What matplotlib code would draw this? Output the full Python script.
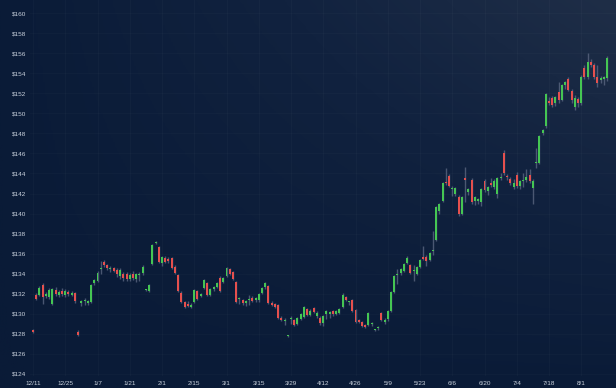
import numpy as np
import matplotlib
matplotlib.use("Agg")
import matplotlib.pyplot as plt
from matplotlib.colors import LinearSegmentedColormap

# ---------------- data ----------------
tick_labels = ["12/11", "12/25", "1/7", "1/21", "2/1", "2/15", "3/1", "3/15", "3/29",
               "4/12", "4/26", "5/9", "5/23", "6/6", "6/20", "7/4", "7/18", "8/1"]
tick_every = 10

opens = [128.4, 131.9, 131.9, 132.9, 131.8, 131.7, 131.0, 132.4, 131.9, 132.3,
         131.9, 132.2, 131.9, 132.1, 128.2, 131.1, 131.3, 131.1, 131.2, 133.1,
         133.3, 134.5, 135.2, 134.9, 134.5, 134.6, 134.4, 133.8, 134.0, 134.0,
         133.5, 134.0, 133.5, 133.9, 134.1, 132.4, 132.3, 135.0, 137.1, 136.7,
         135.1, 135.6, 135.5, 135.6, 134.7, 133.9, 132.1, 131.2, 131.0, 130.7,
         131.2, 132.3, 131.8, 132.6, 133.1, 131.9, 132.5, 132.7, 133.6, 133.2,
         133.8, 134.5, 134.2, 133.2, 131.5, 131.4, 131.1, 131.4, 131.6, 131.4,
         131.4, 132.1, 132.7, 132.8, 131.1, 131.0, 130.9, 129.6, 129.3, 127.8,
         129.5, 129.4, 129.0, 129.5, 129.7, 130.5, 129.9, 130.6, 129.8, 129.6,
         129.1, 130.0, 130.0, 130.3, 130.0, 130.1, 130.7, 131.7, 131.2, 131.4,
         130.4, 129.4, 129.2, 128.9, 128.9, 129.0, 128.4, 128.6, 130.1, 129.2,
         129.5, 130.3, 132.2, 133.9, 134.1, 134.3, 135.1, 134.9, 134.3, 134.0,
         134.7, 135.7, 135.7, 135.4, 136.3, 137.4, 140.3, 141.3, 143.1, 143.7,
         142.4, 142.0, 141.7, 140.0, 143.5, 142.1, 143.3, 141.3, 141.3, 141.2,
         143.2, 142.2, 143.0, 142.6, 142.0, 143.5, 146.0, 143.7, 143.4, 142.6,
         143.8, 142.7, 143.2, 143.3, 143.8, 142.5, 145.0, 145.0, 148.0, 148.7,
         151.2, 151.5, 151.0, 152.1, 151.3, 152.8, 153.4, 152.2, 150.6, 151.4,
         151.0, 154.5, 153.6, 155.1, 154.8, 153.6, 153.3, 153.4, 153.5]

highs = [128.5, 132.1, 132.8, 133.1, 132.2, 132.6, 132.6, 132.7, 132.4, 132.6,
         132.5, 132.4, 132.3, 132.2, 128.4, 131.4, 131.6, 131.4, 133.0, 133.5,
         134.3, 135.3, 135.4, 135.0, 134.8, 134.7, 134.6, 134.6, 134.2, 134.2,
         134.1, 134.3, 134.1, 134.2, 134.9, 132.5, 133.0, 137.0, 137.3, 136.8,
         135.8, 135.8, 135.7, 135.7, 134.9, 134.0, 132.3, 131.3, 131.3, 131.1,
         132.5, 132.4, 132.1, 133.5, 133.2, 132.6, 132.8, 133.2, 133.8, 133.7,
         134.7, 134.6, 134.3, 133.3, 131.7, 131.5, 131.4, 131.9, 131.8, 131.7,
         132.1, 132.7, 133.2, 132.9, 131.3, 131.1, 131.0, 129.8, 129.6, 127.9,
         129.8, 129.5, 129.7, 130.1, 130.8, 130.6, 130.5, 130.7, 130.3, 129.8,
         129.9, 130.4, 130.3, 130.4, 130.4, 130.6, 132.1, 131.8, 131.3, 131.5,
         130.5, 129.5, 129.3, 129.0, 130.2, 129.2, 128.5, 128.8, 130.2, 129.6,
         130.4, 132.3, 133.9, 134.5, 134.6, 135.1, 135.8, 135.0, 134.9, 134.8,
         135.5, 136.8, 135.9, 136.2, 138.3, 140.8, 141.1, 143.1, 144.5, 143.9,
         142.7, 142.6, 141.9, 141.8, 144.6, 142.5, 143.5, 141.8, 141.6, 142.5,
         143.4, 142.7, 143.5, 143.4, 143.6, 144.0, 146.3, 143.9, 143.6, 143.4,
         144.1, 143.3, 144.0, 144.4, 144.4, 143.4, 146.5, 147.8, 148.4, 152.0,
         151.6, 151.7, 151.7, 153.1, 152.9, 153.2, 153.6, 152.4, 151.8, 151.6,
         153.8, 154.8, 156.0, 155.4, 155.0, 154.8, 153.7, 153.7, 155.7]

lows = [128.1, 131.4, 131.8, 131.0, 131.6, 131.5, 130.9, 131.8, 131.7, 131.8,
        131.7, 131.8, 131.8, 131.1, 127.8, 130.8, 130.9, 130.9, 131.1, 132.9,
        133.2, 134.0, 134.7, 134.4, 134.2, 134.2, 133.7, 133.5, 133.3, 133.3,
        133.3, 133.4, 133.2, 133.3, 133.9, 132.3, 132.2, 134.9, 137.0, 135.1,
        134.8, 135.1, 135.1, 134.5, 134.0, 132.2, 131.1, 130.6, 130.7, 130.6,
        131.1, 131.4, 131.7, 132.5, 131.8, 131.8, 132.3, 132.6, 132.2, 133.1,
        133.7, 133.9, 133.4, 131.1, 131.0, 130.9, 130.8, 130.9, 131.2, 131.2,
        131.2, 132.0, 132.5, 131.0, 130.8, 130.6, 129.5, 129.3, 128.9, 127.7,
        129.0, 128.8, 128.9, 129.4, 129.6, 129.8, 129.8, 130.1, 129.6, 128.9,
        128.8, 129.5, 129.6, 129.8, 129.9, 130.0, 130.6, 131.3, 130.9, 130.2,
        129.1, 129.1, 128.7, 128.6, 128.8, 128.8, 128.3, 128.4, 129.3, 129.0,
        129.3, 130.2, 132.1, 133.0, 133.9, 134.2, 135.0, 134.0, 133.3, 133.9,
        134.6, 135.4, 134.8, 135.3, 135.9, 137.3, 140.0, 141.2, 142.8, 142.6,
        141.8, 141.8, 139.8, 139.9, 141.2, 141.9, 141.0, 140.9, 141.0, 140.8,
        142.1, 141.9, 142.6, 142.4, 141.6, 143.3, 143.8, 143.3, 142.8, 142.4,
        142.5, 142.4, 142.6, 143.1, 143.0, 141.0, 144.5, 144.9, 147.8, 148.5,
        150.8, 150.6, 150.7, 151.0, 151.2, 152.4, 152.2, 151.0, 150.3, 150.6,
        150.8, 153.4, 153.4, 154.6, 153.4, 152.6, 153.0, 152.8, 153.2]

closes = [128.2, 131.5, 132.6, 131.7, 132.0, 132.4, 132.5, 132.0, 132.2, 132.0,
          132.3, 132.0, 132.1, 131.3, 127.9, 131.3, 131.3, 131.3, 132.9, 133.4,
          134.1, 134.5, 134.9, 134.6, 134.5, 134.3, 134.0, 134.4, 133.6, 133.5,
          133.9, 133.6, 134.0, 133.9, 134.7, 132.4, 132.9, 136.9, 137.2, 135.2,
          135.7, 135.2, 135.3, 134.6, 134.1, 132.3, 131.2, 130.7, 130.8, 130.9,
          132.4, 131.5, 132.0, 133.4, 131.9, 132.5, 132.7, 133.1, 132.3, 133.6,
          134.6, 134.0, 133.5, 131.2, 131.6, 131.1, 131.3, 131.4, 131.3, 131.6,
          132.0, 132.6, 133.1, 131.1, 130.9, 130.7, 129.6, 129.4, 129.3, 127.9,
          129.5, 128.9, 129.6, 130.0, 130.7, 129.9, 130.3, 130.2, 130.1, 129.1,
          129.8, 130.3, 130.2, 130.0, 130.3, 130.5, 131.9, 131.4, 131.2, 130.3,
          129.2, 129.2, 128.8, 128.7, 130.1, 129.0, 128.5, 128.6, 129.4, 129.4,
          130.3, 132.2, 133.8, 133.9, 134.5, 135.0, 135.6, 134.1, 134.3, 134.7,
          135.4, 135.5, 135.3, 136.1, 136.3, 140.7, 141.0, 143.0, 143.0, 142.7,
          142.4, 142.5, 140.0, 141.7, 143.3, 142.4, 141.2, 141.7, 141.5, 142.4,
          142.3, 142.6, 142.8, 143.2, 143.5, 143.6, 144.0, 143.6, 143.0, 143.0,
          142.7, 143.2, 143.2, 143.6, 143.2, 143.2, 145.0, 147.7, 148.3, 151.9,
          151.0, 150.8, 151.6, 151.3, 152.8, 153.1, 152.3, 151.3, 151.5, 151.0,
          153.6, 153.6, 155.1, 154.8, 153.6, 153.0, 153.5, 153.6, 155.5]

y_ticks = [124, 126, 128, 130, 132, 134, 136, 138, 140, 142, 144, 146, 148, 150,
           152, 154, 156, 158, 160]

# ---------------- style ----------------
W, H = 616, 388
fig = plt.figure(figsize=(W / 100, H / 100), dpi=100)

# background gradient (lighter toward the top-right)
bg = fig.add_axes([0, 0, 1, 1], zorder=-10)
gx = np.linspace(0, 1, 300)
gy = np.linspace(0, 1, 200)
GX, GY = np.meshgrid(gx, gy)          # GY = 0 at top (imshow origin upper)
t = np.clip(GX ** 0.9 * (1 - GY) ** 0.9, 0, 1)
cmap = LinearSegmentedColormap.from_list("bg", ["#0a1b37", "#11223f", "#1f2e47"])
bg.imshow(t, cmap=cmap, aspect="auto", extent=[0, 1, 0, 1], origin="upper",
          interpolation="bilinear")
bg.set_axis_off()

ax_left, ax_right = 30, 616
ax_top, ax_bottom = 0, 376
ax = fig.add_axes([ax_left / W, 1 - ax_bottom / H, (ax_right - ax_left) / W,
                   (ax_bottom - ax_top) / H])
ax.set_facecolor("none")
for s in ax.spines.values():
    s.set_visible(False)

px_per_idx = 3.225
x0_px = 33
ax.set_xlim((ax_left - x0_px) / px_per_idx, (ax_right - x0_px) / px_per_idx)
px_per_usd = (374 - 13) / 36.0
ax.set_ylim(124 - (ax_bottom - 374) / px_per_usd, 160 + (13 - ax_top) / px_per_usd)

n = len(closes)
idx = np.arange(n)
o = np.array(opens); c = np.array(closes)
hi = np.array(highs); lo = np.array(lows)

up_col = "#45c653"
dn_col = "#e5504e"
wick_col = "#5a6680"

ax.vlines(idx, lo, hi, color=wick_col, linewidth=1.0, alpha=0.8, zorder=2)
body_bottom = np.minimum(o, c)
body_h = np.maximum(np.abs(c - o), 0.1)
colors = [up_col if cc >= oo else dn_col for oo, cc in zip(o, c)]
ax.bar(idx, body_h, bottom=body_bottom, width=0.62, color=colors,
       linewidth=0, zorder=3)

# grid
tick_pos = np.arange(len(tick_labels)) * tick_every
for xp in tick_pos:
    ax.axvline(xp, color="white", alpha=0.025, linewidth=0.8, zorder=0)
for yv in y_ticks:
    ax.axhline(yv, color="white", alpha=0.02, linewidth=0.8, zorder=0)

fam = ["Liberation Sans Narrow", "Liberation Sans", "DejaVu Sans"]
ax.set_xticks(tick_pos)
ax.set_xticklabels(tick_labels)
ax.set_yticks(y_ticks)
ax.set_yticklabels(["$%d" % v for v in y_ticks])
ax.tick_params(axis="both", length=0, colors="#c9d1dc", labelsize=4.6)
ax.tick_params(axis="x", pad=3.5)
ax.tick_params(axis="y", pad=3)
for lab in ax.get_xticklabels() + ax.get_yticklabels():
    lab.set_family(fam)

fig.savefig("out.png", dpi=100)
